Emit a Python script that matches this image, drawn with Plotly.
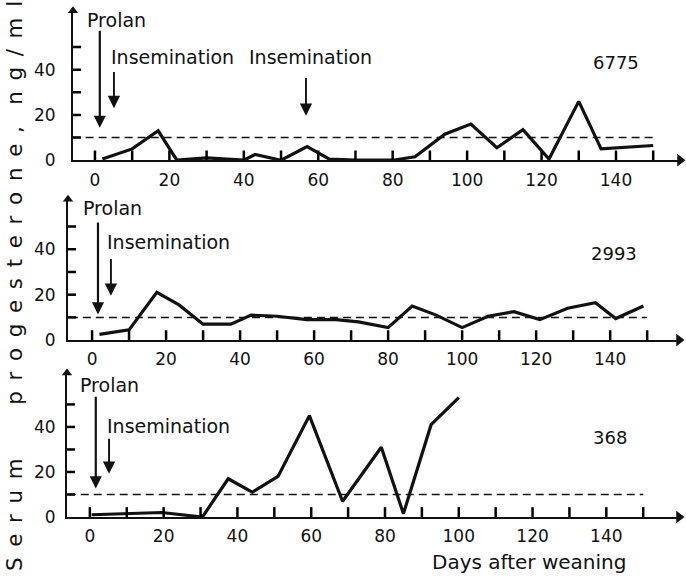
import plotly.graph_objects as go

# ---------------- data ----------------
days_6775 = [2, 10, 17, 22, 30, 40, 43, 50, 57, 63, 70, 80, 86, 94, 101, 108, 115, 122, 130, 136, 150]
prog_6775 = [0.5, 5, 13, 0, 1, 0, 2.5, 0, 6, 0.5, 0, 0, 1.5, 11.5, 16, 5.5, 13.5, 0.5, 26, 5, 6.5]

days_2993 = [2, 10, 17.5, 23.5, 30, 37.5, 43, 50, 58, 66, 72, 80, 86.5, 93, 100, 107, 114, 121, 128.5, 136, 141.5, 149]
prog_2993 = [2.5, 4.5, 21, 15.5, 7, 7, 11, 10.5, 9, 9, 8, 5.5, 15, 11, 5.5, 10.5, 12.5, 9, 14, 16.5, 9.5, 15]

days_368 = [0.5, 10, 19.5, 30.5, 37.5, 44, 51, 59.5, 68.5, 79, 85, 92.5, 100]
prog_368 = [1, 1.5, 2, 0, 17, 11, 18, 45, 7, 31, 1.5, 41, 53]

threshold_days = [-6, 150]
threshold_value = 10

x_tickvals = [0, 10, 20, 30, 40, 50, 60, 70, 80, 90, 100, 110, 120, 130, 140, 150]
x_ticktext = ["0", "", "20", "", "40", "", "60", "", "80", "", "100", "", "120", "", "140", ""]
y_tickvals = [0, 10, 20, 30, 40, 50]
y_ticktext = ["0", "", "20", "", "40", ""]

sow_ids = ["6775", "2993", "368"]

# ---------------- layout geometry ----------------
FONT = "DejaVu Sans"
INK = "#111111"
W, H = 686, 585
XTICK_PX, YTICK_PX = 10, 8

panels = [
    dict(days=days_6775, vals=prog_6775, xr=[-5.9, 157.2], yr=[0, 66],
         xd=[73 / W, 680 / W], yd=[(H - 163) / H, (H - 11) / H], ygap=12,
         id_pos=(140, 43),
         prolan=dict(lx=-2.7, ly=62, ax=1.3, tail=57.8, tip=14.3),
         insem=[dict(lx=3.8, ly=45.6, ax=5.1, tail=39.6, tip=23),
                dict(lx=40.9, ly=45.6, ax=56.7, tail=37, tip=19.6)]),
    dict(days=days_2993, vals=prog_2993, xr=[-6.5, 158.6], yr=[0, 62],
         xd=[68 / W, 679 / W], yd=[(H - 346) / H, (H - 202.8) / H], ygap=7,
         id_pos=(141, 38),
         prolan=dict(lx=-3.0, ly=58, ax=1.6, tail=52.4, tip=11.3),
         insem=[dict(lx=3.5, ly=43.3, ax=5.1, tail=36.4, tip=19.5)]),
    dict(days=days_368, vals=prog_368, xr=[-6.2, 159.7], yr=[0, 64],
         xd=[67 / W, 679 / W], yd=[(H - 526) / H, (H - 379.4) / H], ygap=6,
         id_pos=(141, 35.4),
         prolan=dict(lx=-3.3, ly=58.5, ax=1.6, tail=54.1, tip=12.7),
         insem=[dict(lx=4.1, ly=40.6, ax=5.2, tail=35.4, tip=19.2)]),
]

fig = go.Figure()
annotations = []
txt = dict(family=FONT, size=19, color=INK)

for i, p in enumerate(panels):
    n = "" if i == 0 else str(i + 1)
    xa, ya = "x" + n, "y" + n
    px_per_x = (p["xd"][1] - p["xd"][0]) * W / (p["xr"][1] - p["xr"][0])
    px_per_y = (p["yd"][1] - p["yd"][0]) * H / (p["yr"][1] - p["yr"][0])

    fig.add_trace(go.Scatter(x=threshold_days, y=[threshold_value] * 2, mode="lines",
                             line=dict(color=INK, width=1.5, dash="8px,5px"),
                             xaxis=xa, yaxis=ya, showlegend=False, hoverinfo="skip"))
    fig.add_trace(go.Scatter(x=p["days"], y=p["vals"], mode="lines",
                             line=dict(color=INK, width=3.2), cliponaxis=False,
                             xaxis=xa, yaxis=ya, showlegend=False))

    # tick marks pointing into the plot, built from the tick value arrays
    tx, ty = [], []
    for tv in x_tickvals:
        tx += [tv, tv, None]
        ty += [0, XTICK_PX / px_per_y, None]
    for tv in y_tickvals[1:]:
        tx += [p["xr"][0], p["xr"][0] + YTICK_PX / px_per_x, None]
        ty += [tv, tv, None]
    fig.add_trace(go.Scatter(x=tx, y=ty, mode="lines", line=dict(color="black", width=2.5),
                             cliponaxis=False, connectgaps=False, xaxis=xa, yaxis=ya,
                             showlegend=False, hoverinfo="skip"))

    # axis arrow heads
    fig.add_trace(go.Scatter(x=[p["xr"][0]], y=[p["yr"][1]], mode="markers",
                             marker=dict(symbol="triangle-up", size=9, color=INK),
                             cliponaxis=False, xaxis=xa, yaxis=ya, showlegend=False, hoverinfo="skip"))
    fig.add_trace(go.Scatter(x=[p["xr"][1]], y=[0], mode="markers",
                             marker=dict(symbol="triangle-right", size=11, color=INK),
                             cliponaxis=False, xaxis=xa, yaxis=ya, showlegend=False, hoverinfo="skip"))

    fig.layout["xaxis" + n] = dict(
        domain=p["xd"], range=p["xr"], anchor=ya, showgrid=False, zeroline=False,
        showline=True, linecolor=INK, linewidth=1.8,
        tickmode="array", tickvals=x_tickvals, ticktext=x_ticktext,
        ticks="outside", ticklen=3, tickcolor="rgba(0,0,0,0)",
        tickfont=dict(family=FONT, size=17, color=INK))
    fig.layout["yaxis" + n] = dict(
        domain=p["yd"], range=p["yr"], anchor=xa, showgrid=False, zeroline=False,
        showline=True, linecolor=INK, linewidth=1.8,
        tickmode="array", tickvals=y_tickvals, ticktext=y_ticktext,
        ticks="outside", ticklen=p["ygap"], tickcolor="rgba(0,0,0,0)",
        tickfont=dict(family=FONT, size=17, color=INK))

    annotations.append(dict(x=p["id_pos"][0], y=p["id_pos"][1], xref=xa, yref=ya,
                            text=sow_ids[i], showarrow=False,
                            font=dict(family=FONT, size=18, color=INK),
                            xanchor="center", yanchor="middle"))
    pr = p["prolan"]
    annotations.append(dict(x=pr["lx"], y=pr["ly"], xref=xa, yref=ya, text="Prolan",
                            showarrow=False, font=txt, xanchor="left", yanchor="middle"))
    annotations.append(dict(x=pr["ax"], y=pr["tip"], ax=pr["ax"], ay=pr["tail"],
                            xref=xa, yref=ya, axref=xa, ayref=ya, text="",
                            showarrow=True, arrowhead=2, arrowsize=1.1, arrowwidth=2.2,
                            arrowcolor=INK))
    for ins in p["insem"]:
        annotations.append(dict(x=ins["lx"], y=ins["ly"], xref=xa, yref=ya, text="Insemination",
                                showarrow=False, font=txt, xanchor="left", yanchor="middle"))
        annotations.append(dict(x=ins["ax"], y=ins["tip"], ax=ins["ax"], ay=ins["tail"],
                                xref=xa, yref=ya, axref=xa, ayref=ya, text="",
                                showarrow=True, arrowhead=2, arrowsize=1.3, arrowwidth=1.9,
                                arrowcolor=INK))

annotations.append(dict(x=529 / W, y=(H - 572) / H, xref="paper", yref="paper",
                        text="Days after weaning", showarrow=False,
                        font=dict(family=FONT, size=20, color=INK),
                        xanchor="center", yanchor="middle"))
E = "\u2002"
ytitle = E.join("Serum") + E * 5 + E.join("progesterone") + E + "," + E * 2 + E.join("ng/ml")
annotations.append(dict(x=14 / W, y=(H - 291) / H, xref="paper", yref="paper",
                        text=ytitle, textangle=-90, showarrow=False,
                        font=dict(family=FONT, size=21.4, color=INK),
                        xanchor="center", yanchor="middle"))

fig.update_layout(width=W, height=H, margin=dict(l=0, r=0, t=0, b=0),
                  paper_bgcolor="white", plot_bgcolor="white",
                  annotations=annotations, showlegend=False)

fig.write_html("out.html", config={"displayModeBar": False},
               post_script="document.body.style.margin='0';document.body.style.overflow='hidden';")
